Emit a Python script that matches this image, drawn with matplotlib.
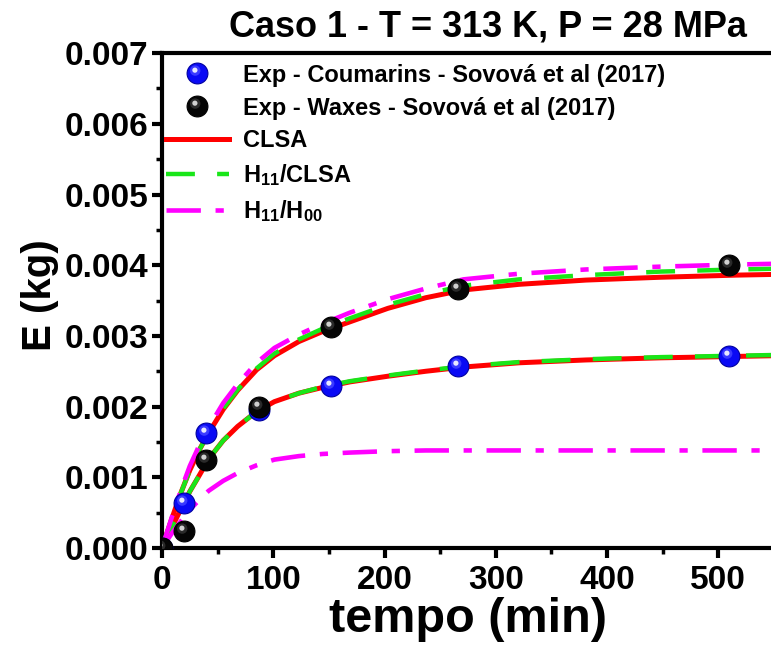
import numpy as np
import matplotlib
matplotlib.use("Agg")
import matplotlib.pyplot as plt
from matplotlib.path import Path
from matplotlib.ticker import MultipleLocator, FormatStrFormatter
from matplotlib.legend_handler import HandlerTuple

plt.rcParams['font.family'] = ['Liberation Sans', 'DejaVu Sans']
plt.rcParams['font.weight'] = 'bold'
plt.rcParams['mathtext.fontset'] = 'custom'
plt.rcParams['mathtext.rm'] = 'Liberation Sans:bold'
plt.rcParams['mathtext.it'] = 'Liberation Sans:bold'
plt.rcParams['mathtext.bf'] = 'Liberation Sans:bold'

# experimental points (min, kg)
t_exp = [0, 20, 40, 87, 152, 266, 510]
E_coumarins = [0.0, 0.00064, 0.00163, 0.00195, 0.00229, 0.00258, 0.00272]
E_waxes = [0.0, 0.00024, 0.00125, 0.00200, 0.00312, 0.00366, 0.00401]

# model curves
t_mod = [0, 8.5, 17, 25, 34, 42, 55, 68, 85, 101, 123, 144, 169, 203, 237,
         271, 321, 381, 448, 516, 550]
clsa_waxes = [0, 0.00040, 0.00078, 0.00110, 0.00140, 0.00163, 0.00196, 0.00223,
              0.00252, 0.00272, 0.00292, 0.00306, 0.00320, 0.00339, 0.00354,
              0.00365, 0.00373, 0.00379, 0.00383, 0.00386, 0.00387]
h11clsa_waxes = [0, 0.00040, 0.00078, 0.00110, 0.00140, 0.00163, 0.00197, 0.00224,
                 0.00254, 0.00275, 0.00295, 0.00310, 0.00325, 0.00344, 0.00359,
                 0.00371, 0.00380, 0.00386, 0.00391, 0.00394, 0.00395]
h11h00_waxes = [0, 0.00042, 0.00082, 0.00116, 0.00147, 0.00171, 0.00205, 0.00232,
                0.00262, 0.00283, 0.00302, 0.00317, 0.00333, 0.00352, 0.00367,
                0.00380, 0.00388, 0.00394, 0.00398, 0.00401, 0.00402]
clsa_coum = [0, 0.00028, 0.00055, 0.00080, 0.00104, 0.00126, 0.00152, 0.00172,
             0.00193, 0.00207, 0.00219, 0.00227, 0.00235, 0.00243, 0.00250,
             0.00256, 0.00262, 0.00266, 0.00269, 0.00271, 0.00272]
h11clsa_coum = [0, 0.00028, 0.00055, 0.00080, 0.00104, 0.00126, 0.00152, 0.00172,
                0.00193, 0.00207, 0.00219, 0.00228, 0.00236, 0.00244, 0.00251,
                0.00257, 0.00263, 0.00267, 0.00270, 0.00272, 0.00273]
h11h00_coum = [0, 0.00020, 0.00038, 0.00054, 0.00069, 0.00081, 0.00095, 0.00106,
               0.00117, 0.00125, 0.00130, 0.00133, 0.00135, 0.00137, 0.00138,
               0.00138, 0.00138, 0.00138, 0.00138, 0.00138, 0.00138]

fig = plt.figure(figsize=(7.71, 6.52), dpi=100)
ax = fig.add_axes([0.2101, 0.1595, 0.7938, 0.759])

red, green, magenta = '#ff0000', '#19e619', '#ff00ff'
dashed = (0, (6.5, 5))
dashdot = (0, (7.5, 3.2, 1.8, 3.2))
ax.plot(t_mod, clsa_coum, color=red, lw=3.6, zorder=2, label='CLSA')
ax.plot(t_mod, clsa_waxes, color=red, lw=3.6, zorder=2)
ax.plot(t_mod, h11clsa_coum, color=green, lw=3.2, ls=dashed, zorder=3,
        label='H$_{11}$/CLSA')
ax.plot(t_mod, h11clsa_waxes, color=green, lw=3.2, ls=dashed, zorder=3)
ax.plot(t_mod, h11h00_coum, color=magenta, lw=3.3, ls=dashdot, zorder=3,
        label='H$_{11}$/H$_{00}$')
ax.plot(t_mod, h11h00_waxes, color=magenta, lw=3.3, ls=dashdot, zorder=3)


def shine(cx, cy, r):
    # offset disc inside a fixed frame so the marker keeps its scale
    return Path.make_compound_path(
        Path([(-1, -1), (1, 1)], [Path.MOVETO, Path.MOVETO]),
        Path.circle((cx, cy), r))


glow = shine(-0.22, 0.28, 0.5)
spot = shine(-0.25, 0.32, 0.25)


def sphere(t, e, face, edge, mid, light, z):
    base, = ax.plot(t, e, 'o', ms=15, mfc=face, mec=edge, mew=0.8, zorder=z)
    g, = ax.plot(t, e, ls='none', marker=glow, ms=15, mfc=mid, mec='none', zorder=z)
    s, = ax.plot(t, e, ls='none', marker=spot, ms=15, mfc=light, mec='none', zorder=z)
    return (base, g, s)


blue_h = sphere(t_exp, E_coumarins, '#0a0af5', '#0000a0', '#3a3aff', '#e8e8ff', 5)
black_h = sphere(t_exp, E_waxes, '#050505', '#000000', '#2a2a2a', '#d0d0d0', 6)

handles, labels = ax.get_legend_handles_labels()
handles = [blue_h, black_h] + handles
labels = ['Exp - Coumarins - Sovová et al (2017)',
          'Exp - Waxes - Sovová et al (2017)'] + labels
ax.legend(handles, labels, loc='upper left', bbox_to_anchor=(0.0, 0.986),
          frameon=False, fontsize=17, handlelength=2.67, handletextpad=0.6,
          labelspacing=0.42, borderaxespad=0.05, borderpad=0.1,
          handler_map={tuple: HandlerTuple(ndivide=1)})

ax.set_xlim(0, 550)
ax.set_ylim(0, 0.007)
ax.xaxis.set_major_locator(MultipleLocator(100))
ax.xaxis.set_minor_locator(MultipleLocator(50))
ax.yaxis.set_major_locator(MultipleLocator(0.001))
ax.yaxis.set_minor_locator(MultipleLocator(0.0005))
ax.yaxis.set_major_formatter(FormatStrFormatter('%.3f'))

for s in ax.spines.values():
    s.set_linewidth(3)
ax.tick_params(which='major', direction='out', length=7, width=3, labelsize=24, pad=3)
ax.tick_params(axis='x', which='major', pad=5)
ax.tick_params(which='minor', direction='out', length=4, width=2.5)
ax.tick_params(top=False, right=False)

ax.set_xlabel('tempo (min)', fontsize=35, fontweight='bold', labelpad=1)
ax.set_ylabel('E (kg)', fontsize=29, fontweight='bold')
ax.yaxis.set_label_coords(-0.168, 0.51)
fig.text(0.633, 0.9433, 'Caso 1 - T = 313 K, P = 28 MPa', fontsize=26,
         fontweight='bold', ha='center', va='baseline')

fig.savefig('out.png', dpi=100)
